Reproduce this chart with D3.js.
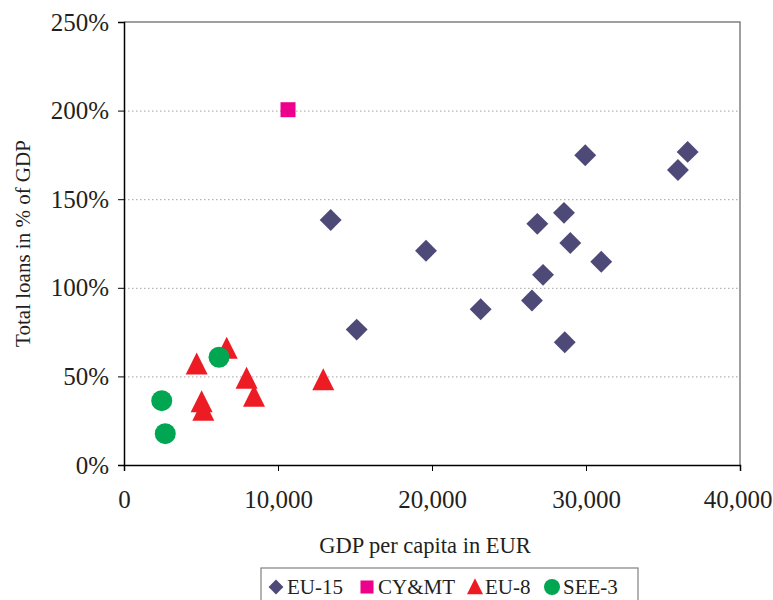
<!DOCTYPE html>
<html>
<head>
<meta charset="utf-8">
<script src="https://cdn.jsdelivr.net/npm/d3@7"></script>
<style>
  body { margin: 0; background: #fff; }
  svg text { font-family: "Liberation Serif", "Times New Roman", serif; fill: #231f20; }
  .grid line { stroke: #a0a0a0; stroke-dasharray: 1.5 2.5; }
  .grid .domain { display: none; }
</style>
</head>
<body>
<div id="chart"></div>
<script>
// GDP per capita (EUR) and total loans (% of GDP)
const eu15X = [13420, 15110, 19610, 23160, 26840, 26490, 27210, 28570, 28980, 28620, 29950, 30990, 35970, 36600];
const eu15Y = [138.3, 76.4, 120.9, 87.9, 136.1, 92.8, 107.3, 142.3, 125.3, 69.3, 174.8, 114.7, 166.5, 176.7];
const cymtX = [10650];
const cymtY = [200.5];
const eu8X = [6670, 4720, 7960, 8440, 12940, 5040, 5150];
const eu8Y = [65.6, 56.6, 48.6, 38.5, 47.8, 35.3, 30.6];
const see3X = [6170, 2450, 2680];
const see3Y = [60.8, 36.3, 17.7];

const xTicks = [0, 10000, 20000, 30000, 40000];
const yTicks = [0, 50, 100, 150, 200, 250];
const seriesNames = ["EU-15", "CY&MT", "EU-8", "SEE-3"];

const width = 773, height = 600;
const margin = { top: 22, right: 33, bottom: 135, left: 124 };
const innerW = width - margin.left - margin.right;
const innerH = height - margin.top - margin.bottom;

const svg = d3.select("#chart").append("svg")
  .attr("width", width).attr("height", height);
const plot = svg.append("g").attr("transform", `translate(${margin.left},${margin.top})`);

const x = d3.scaleLinear().domain([0, 40000]).range([0, innerW]);
const y = d3.scaleLinear().domain([0, 250]).range([innerH, 0]);

// Dotted horizontal gridlines
plot.append("g").attr("class", "grid")
  .call(d3.axisLeft(y).tickValues(yTicks.filter((d) => d > 0 && d < 250)).tickSize(-innerW).tickFormat(""));

// Grey plot-area border on top and right
plot.append("path")
  .attr("d", `M0,${y(250)}H${x(40000)}V${y(0)}`)
  .attr("fill", "none").attr("stroke", "#808080").attr("stroke-width", 1.5);

const yAxis = plot.append("g")
  .call(d3.axisLeft(y).tickValues(yTicks).tickSize(6).tickPadding(9).tickFormat((d) => d + "%"));
const xAxis = plot.append("g").attr("transform", `translate(0,${innerH})`)
  .call(d3.axisBottom(x).tickValues(xTicks).tickSize(6).tickPadding(19).tickFormat(d3.format(",")));

[yAxis, xAxis].forEach((g) => {
  g.select(".domain").attr("stroke", "#000").attr("stroke-width", 1.5);
  g.selectAll(".tick line").attr("stroke", "#000");
  g.selectAll("text").attr("font-size", 25).attr("fill", "#231f20");
});
// last x label is pushed inside the page, as in the original
xAxis.selectAll(".tick text").filter((d) => d === 40000).attr("text-anchor", "end").attr("dx", 32);

// Axis titles
svg.append("text")
  .attr("x", 425).attr("y", 553)
  .attr("text-anchor", "middle").attr("font-size", 22.5)
  .text("GDP per capita in EUR");
svg.append("text")
  .attr("transform", `translate(30,${margin.top + innerH / 2}) rotate(-90)`)
  .attr("text-anchor", "middle").attr("font-size", 21)
  .text("Total loans in % of GDP");

// Marker shapes
const diamond = d3.symbol().type(d3.symbolSquare).size(240)();
const square = d3.symbol().type(d3.symbolSquare).size(225)();
const triangle = (s) => `M0,${-s * 0.55}L${s / 2},${s * 0.45}L${-s / 2},${s * 0.45}Z`;

const pts = (xs, ys) => xs.map((v, i) => ({ x: v, y: ys[i] }));

const marks = plot.append("g");
marks.selectAll(".eu15").data(pts(eu15X, eu15Y)).join("path")
  .attr("d", diamond).attr("fill", "#4d4a78")
  .attr("transform", (d) => `translate(${x(d.x)},${y(d.y)}) rotate(45)`);
marks.selectAll(".cymt").data(pts(cymtX, cymtY)).join("path")
  .attr("d", square).attr("fill", "#ec008c")
  .attr("transform", (d) => `translate(${x(d.x)},${y(d.y)})`);
marks.selectAll(".eu8").data(pts(eu8X, eu8Y)).join("path")
  .attr("d", triangle(22)).attr("fill", "#ed1c24")
  .attr("transform", (d) => `translate(${x(d.x)},${y(d.y)})`);
marks.selectAll(".see3").data(pts(see3X, see3Y)).join("circle")
  .attr("r", 10.5).attr("fill", "#00a651")
  .attr("cx", (d) => x(d.x)).attr("cy", (d) => y(d.y));

// Legend box along the bottom edge
const legend = svg.append("g");
legend.append("rect")
  .attr("x", 261).attr("y", 568).attr("width", 377).attr("height", 40)
  .attr("fill", "none").attr("stroke", "#808080").attr("stroke-width", 1.2);

const legendItems = [
  { name: seriesNames[0], mx: 276, tx: 287, draw: (g) => g.append("path").attr("d", d3.symbol().type(d3.symbolSquare).size(110)()).attr("transform", "rotate(45)").attr("fill", "#4d4a78") },
  { name: seriesNames[1], mx: 367, tx: 378, draw: (g) => g.append("path").attr("d", d3.symbol().type(d3.symbolSquare).size(170)()).attr("fill", "#ec008c") },
  { name: seriesNames[2], mx: 475, tx: 485, draw: (g) => g.append("path").attr("d", triangle(16)).attr("fill", "#ed1c24") },
  { name: seriesNames[3], mx: 552, tx: 563, draw: (g) => g.append("circle").attr("r", 8).attr("fill", "#00a651") },
];
legendItems.forEach((it) => {
  const g = legend.append("g").attr("transform", `translate(${it.mx},587)`);
  it.draw(g);
  legend.append("text").attr("x", it.tx).attr("y", 594)
    .attr("font-size", 21).text(it.name);
});
</script>
</body>
</html>
